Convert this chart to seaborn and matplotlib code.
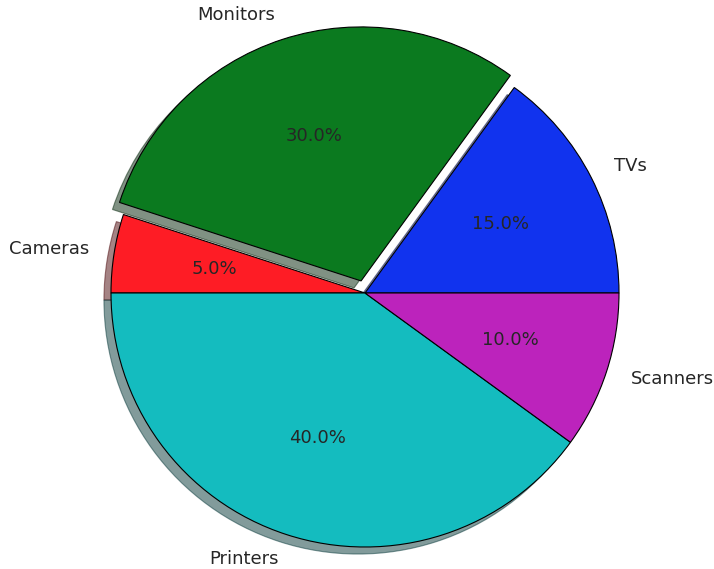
import matplotlib
matplotlib.use('Agg')
import seaborn as sns
import matplotlib.pyplot as plt

# data
labels = ['TVs', 'Monitors', 'Cameras', 'Printers', 'Scanners']
shares = [15, 30, 5, 40, 10]
colors = ['#1133ee', '#0b7a1f', '#fe1c25', '#14bcbf', '#bc23bc']
explode = [0, 0.05, 0, 0, 0]

sns.set_style('white')
plt.rcParams['font.family'] = ['DejaVu Sans']

fig = plt.figure(figsize=(7.14, 5.69), dpi=100)
ax = fig.add_axes([0, 0, 1, 1])

ax.pie(shares, labels=labels, colors=colors, explode=explode,
       autopct='%1.1f%%', shadow=True, startangle=0,
       wedgeprops={'edgecolor': 'black', 'linewidth': 0.8},
       textprops={'fontsize': 13})

# pie radius ~254 px, centre at (365, 293) px
r = 254
ax.set_xlim(-365 / r, (714 - 365) / r)
ax.set_ylim(-(569 - 293) / r, 293 / r)
ax.set_aspect('auto')
ax.axis('off')

fig.savefig('out.png', dpi=100)
